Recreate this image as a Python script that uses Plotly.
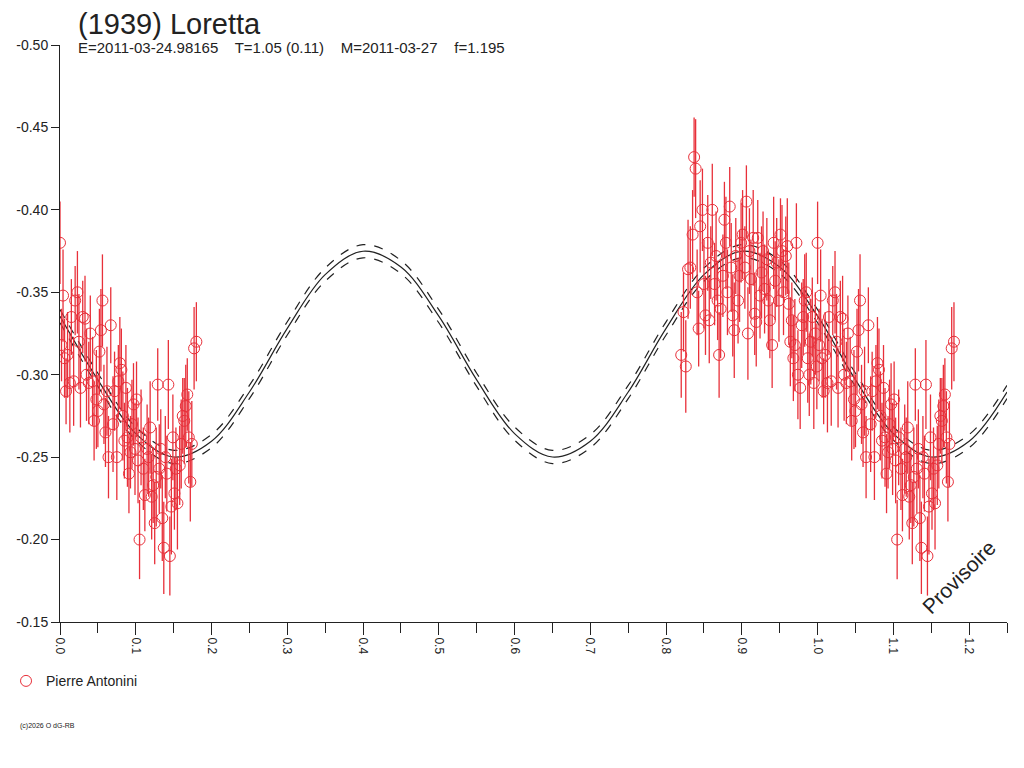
import plotly.graph_objects as go

PHASE_A = [0.000,0.002,0.004,0.006,0.008,0.010,0.013,0.015,0.018,0.020,0.023,0.025,0.027,0.030,0.033,0.035,0.038,0.040,0.043,0.045,0.048,0.050,0.052,0.054,0.056,0.058,0.060,0.062,0.064,0.067,0.070,0.072,0.075,0.077,0.079,0.081,0.083,0.085,0.087,0.089,0.091,0.093,0.095,0.097,0.099,0.101,0.103,0.105,0.107,0.110,0.112,0.115,0.117,0.119,0.121,0.123,0.125,0.127,0.129,0.131,0.133,0.135,0.137,0.139,0.141,0.143,0.145,0.147,0.149,0.151,0.153,0.155,0.158,0.160,0.162,0.164,0.166,0.168,0.170,0.172,0.174,0.177,0.180]
MAG_A = [-0.380,-0.318,-0.348,-0.310,-0.290,-0.312,-0.295,-0.335,-0.296,-0.345,-0.350,-0.320,-0.292,-0.335,-0.334,-0.300,-0.295,-0.325,-0.296,-0.272,-0.285,-0.278,-0.314,-0.327,-0.345,-0.282,-0.265,-0.290,-0.250,-0.330,-0.270,-0.290,-0.250,-0.296,-0.307,-0.303,-0.275,-0.260,-0.292,-0.262,-0.240,-0.253,-0.270,-0.282,-0.255,-0.285,-0.248,-0.200,-0.262,-0.243,-0.227,-0.255,-0.250,-0.268,-0.226,-0.233,-0.210,-0.238,-0.294,-0.243,-0.255,-0.213,-0.195,-0.250,-0.240,-0.294,-0.190,-0.220,-0.262,-0.228,-0.243,-0.222,-0.245,-0.258,-0.275,-0.272,-0.281,-0.288,-0.262,-0.235,-0.258,-0.316,-0.320]
ERR_A = [0.025,0.022,0.028,0.024,0.020,0.026,0.030,0.023,0.027,0.021,0.025,0.029,0.024,0.022,0.026,0.028,0.025,0.023,0.027,0.024,0.030,0.022,0.026,0.025,0.028,0.024,0.021,0.027,0.025,0.023,0.029,0.024,0.026,0.022,0.028,0.025,0.027,0.023,0.026,0.030,0.024,0.022,0.027,0.025,0.028,0.023,0.026,0.024,0.029,0.025,0.022,0.027,0.024,0.028,0.026,0.023,0.025,0.030,0.022,0.027,0.024,0.026,0.028,0.025,0.023,0.027,0.024,0.029,0.026,0.022,0.025,0.028,0.024,0.027,0.023,0.026,0.025,0.022,0.028,0.024,0.026,0.025,0.024]

PHASE_B = [0.820,0.823,0.826,0.829,0.832,0.835,0.837,0.839,0.841,0.843,0.845,0.848,0.850,0.852,0.855,0.857,0.859,0.861,0.864,0.866,0.868,0.870,0.872,0.875,0.877,0.879,0.881,0.884,0.886,0.888,0.890,0.892,0.895,0.897,0.899,0.901,0.904,0.906,0.908,0.910,0.912,0.915,0.917,0.919,0.921,0.924,0.926,0.928,0.930,0.933,0.935,0.937,0.940,0.942,0.944,0.946,0.949,0.951,0.953,0.955,0.958,0.960,0.962,0.964,0.966,0.968,0.970,0.972,0.974,0.977,0.979,0.981,0.983,0.985,0.987,0.989,0.991,0.993,0.995,0.997,0.999]
MAG_B = [-0.312,-0.338,-0.305,-0.364,-0.365,-0.385,-0.432,-0.425,-0.350,-0.328,-0.390,-0.400,-0.355,-0.336,-0.380,-0.333,-0.368,-0.400,-0.355,-0.372,-0.345,-0.312,-0.340,-0.360,-0.394,-0.380,-0.350,-0.402,-0.365,-0.336,-0.327,-0.372,-0.345,-0.360,-0.380,-0.385,-0.365,-0.405,-0.325,-0.375,-0.358,-0.383,-0.337,-0.332,-0.383,-0.348,-0.362,-0.375,-0.352,-0.370,-0.345,-0.333,-0.318,-0.380,-0.357,-0.368,-0.345,-0.385,-0.375,-0.350,-0.372,-0.378,-0.343,-0.320,-0.333,-0.310,-0.318,-0.380,-0.300,-0.292,-0.330,-0.335,-0.345,-0.350,-0.310,-0.300,-0.320,-0.335,-0.295,-0.325,-0.305]
ERR_B = [0.026,0.024,0.028,0.030,0.025,0.027,0.024,0.030,0.026,0.023,0.028,0.025,0.027,0.024,0.029,0.026,0.022,0.028,0.025,0.027,0.024,0.026,0.030,0.025,0.023,0.028,0.026,0.024,0.027,0.025,0.029,0.023,0.026,0.028,0.024,0.027,0.025,0.022,0.028,0.026,0.024,0.029,0.025,0.027,0.023,0.026,0.028,0.024,0.027,0.025,0.030,0.023,0.026,0.028,0.024,0.027,0.025,0.022,0.028,0.026,0.024,0.029,0.025,0.027,0.023,0.026,0.028,0.024,0.027,0.025,0.026,0.023,0.028,0.024,0.027,0.025,0.026,0.024,0.028,0.025,0.026]

FIT_X = [0.00,0.05,0.10,0.15,0.20,0.25,0.30,0.35,0.40,0.45,0.50,0.55,0.60,0.65,0.70,0.75,0.80,0.85,0.90,0.95,1.00,1.05,1.10,1.15,1.20,1.25]
FIT_Y = [-0.3355,-0.2969,-0.2643,-0.2501,-0.2597,-0.2895,-0.3281,-0.3607,-0.3749,-0.3653,-0.3355,-0.2969,-0.2643,-0.2501,-0.2597,-0.2895,-0.3281,-0.3607,-0.3749,-0.3653,-0.3355,-0.2969,-0.2643,-0.2501,-0.2597,-0.2895]
FIT_HI = [-0.3395,-0.3009,-0.2683,-0.2541,-0.2637,-0.2935,-0.3321,-0.3647,-0.3789,-0.3693,-0.3395,-0.3009,-0.2683,-0.2541,-0.2637,-0.2935,-0.3321,-0.3647,-0.3789,-0.3693,-0.3395,-0.3009,-0.2683,-0.2541,-0.2637,-0.2935]
FIT_LO = [-0.3315,-0.2929,-0.2603,-0.2461,-0.2557,-0.2855,-0.3241,-0.3567,-0.3709,-0.3613,-0.3315,-0.2929,-0.2603,-0.2461,-0.2557,-0.2855,-0.3241,-0.3567,-0.3709,-0.3613,-0.3315,-0.2929,-0.2603,-0.2461,-0.2557,-0.2855]

X_TICKS = [0.0,0.1,0.2,0.3,0.4,0.5,0.6,0.7,0.8,0.9,1.0,1.1,1.2]
Y_TICKS = [-0.50,-0.45,-0.40,-0.35,-0.30,-0.25,-0.20,-0.15]

RED = "#e8303a"
fig = go.Figure()
for arr, dash in [(FIT_HI, "dash"), (FIT_Y, "solid"), (FIT_LO, "dash")]:
    fig.add_trace(go.Scatter(x=FIT_X, y=arr, mode="lines", line=dict(color="#222", width=1.2, dash=dash, shape="spline"), showlegend=False, hoverinfo="skip"))

px_all = PHASE_A + [p + 1 for p in PHASE_A] + PHASE_B
my_all = MAG_A + MAG_A + MAG_B
er_all = ERR_A + ERR_A + ERR_B
fig.add_trace(go.Scatter(x=px_all, y=my_all, mode="markers", name="Pierre Antonini",
    marker=dict(symbol="circle-open", size=11, color=RED, line=dict(width=1)),
    error_y=dict(type="data", array=er_all, color=RED, thickness=1.3, width=0)))

OFF = 8
L, R, T, B = 60 - OFF, 17 + OFF, 45 - OFF, 146 + OFF
font = "Liberation Sans, Arial, sans-serif"
fig.update_layout(
    width=1024, height=768, paper_bgcolor="white", plot_bgcolor="white",
    margin=dict(l=L, r=R, t=T, b=B, autoexpand=False), font=dict(family=font, color="#222", size=12),
    showlegend=True,
    legend=dict(x=-0.057, y=-0.075, xanchor="left", yanchor="top", font=dict(size=14), bgcolor="rgba(0,0,0,0)"),
    xaxis=dict(range=[0, 1.25], tickvals=X_TICKS, ticktext=[f"{v:.1f}" for v in X_TICKS], tickangle=90,
               showgrid=False, zeroline=False, showline=True, linecolor="#222", ticks="outside", ticklen=12,
               tickcolor="#222", tickfont=dict(size=12), automargin=False,
               minor=dict(dtick=0.05, ticks="outside", ticklen=10, tickcolor="#222")),
    yaxis=dict(range=[-0.15, -0.50], tickvals=Y_TICKS, ticktext=[f"{v:.2f}" for v in Y_TICKS],
               showgrid=False, zeroline=False, showline=True, linecolor="#222", ticks="outside", ticklen=8,
               tickcolor="#222", tickfont=dict(size=14), automargin=False),
    annotations=[
        dict(text="(1939) Loretta", showarrow=False, font=dict(size=29)),
        dict(text="E=2011-03-24.98165    T=1.05 (0.11)    M=2011-03-27    f=1.195", showarrow=False, font=dict(size=15)),
        dict(text="(c)2026 O dG-RB", showarrow=False, font=dict(size=7)),
        dict(text="Provisoire", showarrow=False, font=dict(size=21), textangle=-45),
    ],
)
W, H = 1024 - L - R, 768 - T - B
def pp(x, y):
    x -= OFF; y -= OFF
    return (x - L) / W, (768 - B - y) / H
ann = list(fig.layout.annotations)
for a, (x, y, xa, ya) in zip(ann, [(76, 6, "left", "top"), (76, 48, "left", "middle"), (18, 726, "left", "middle"), (958, 577, "center", "middle")]):
    a.x, a.y = pp(x, y); a.xref = "paper"; a.yref = "paper"; a.xanchor = xa; a.yanchor = ya
fig.layout.annotations = ann
fig.write_html("out.html")
